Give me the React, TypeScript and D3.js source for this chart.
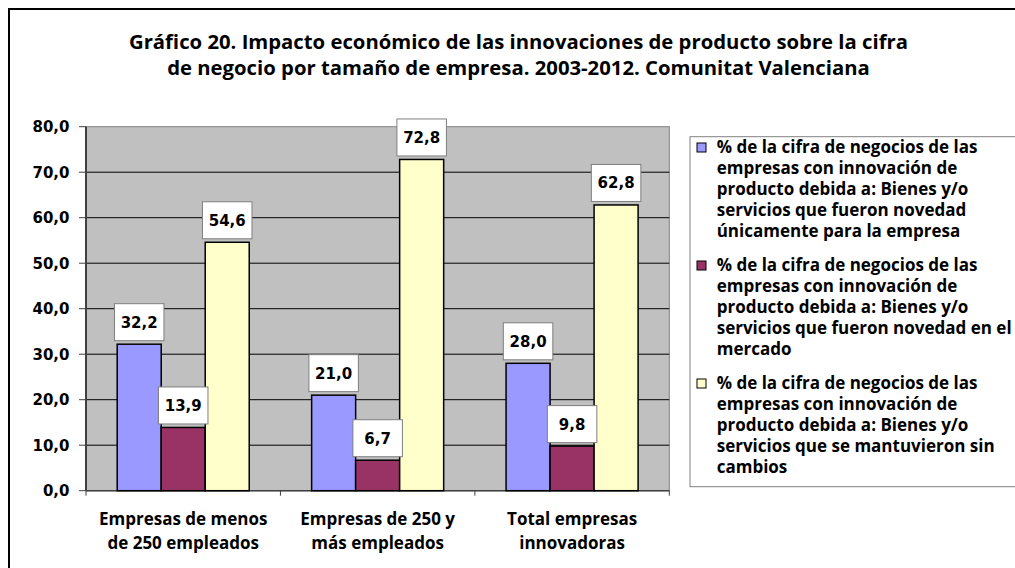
import React from "react";
import * as d3 from "d3";

const categoryLines: string[][] = [
  ["Empresas de menos", "de 250 empleados"],
  ["Empresas de 250 y", "más empleados"],
  ["Total empresas", "innovadoras"],
];
const categories = ["c1", "c2", "c3"];
const seriesKeys = ["s1", "s2", "s3"];
const seriesColors = ["#9999FF", "#993366", "#FFFFCC"];
const valuesS1 = [32.2, 21.0, 28.0];
const valuesS2 = [13.9, 6.7, 9.8];
const valuesS3 = [54.6, 72.8, 62.8];
const yTicks = [0, 10, 20, 30, 40, 50, 60, 70, 80];
const titleLines = [
  "Gráfico 20. Impacto económico de las innovaciones de producto sobre la cifra",
  "de negocio por tamaño de empresa. 2003-2012. Comunitat Valenciana",
];
const legendLines: string[][] = [
  [
    "% de la cifra de negocios de las",
    "empresas con innovación de",
    "producto debida a: Bienes y/o",
    "servicios que fueron novedad",
    "únicamente para la empresa",
  ],
  [
    "% de la cifra de negocios de las",
    "empresas con innovación de",
    "producto debida a: Bienes y/o",
    "servicios que fueron novedad en el",
    "mercado",
  ],
  [
    "% de la cifra de negocios de las",
    "empresas con innovación de",
    "producto debida a: Bienes y/o",
    "servicios que se mantuvieron sin",
    "cambios",
  ],
];

const W = 1007;
const H = 560;
const plot = { left: 78, top: 118.7, right: 661.3, bottom: 482.7 };
const labelFont = "'DejaVu Sans', Verdana, sans-serif";
const textFont = "'Open Sans', Calibri, sans-serif";

export default function App() {
  const seriesValues = [valuesS1, valuesS2, valuesS3];
  const y = d3.scaleLinear().domain([0, 80]).range([plot.bottom, plot.top]);
  const x0 = d3.scaleBand().domain(categories).range([plot.left, plot.right]).padding(0);
  const x1 = d3
    .scaleBand()
    .domain(seriesKeys)
    .range([0, x0.bandwidth()])
    .paddingInner(0)
    .paddingOuter(0.709);

  const titleCx = 510.5;

  return (
    <svg
      width={W}
      height={H}
      style={{ position: "absolute", left: 8, top: 8, display: "block", background: "#fff" }}
    >
      <rect x={1} y={1} width={W + 100} height={H + 100} fill="#fff" stroke="#000" strokeWidth={2} />
      {titleLines.map((t, i) => (
        <text
          key={i}
          x={titleCx}
          y={41.2 + i * 25.6}
          textAnchor="middle"
          fontFamily={textFont}
          fontWeight="bold"
          fontSize={20.3}
          fill="#000"
        >
          {t}
        </text>
      ))}

      {/* plot area */}
      <rect
        x={plot.left}
        y={plot.top}
        width={plot.right - plot.left}
        height={plot.bottom - plot.top}
        fill="#C0C0C0"
        stroke="#808080"
        strokeWidth={1}
      />
      {yTicks.map((t) => (
        <g key={t}>
          {t > 0 && t < 80 && (
            <line x1={plot.left} x2={plot.right} y1={y(t)} y2={y(t)} stroke="#000" strokeWidth={1} />
          )}
          <line x1={plot.left - 7} x2={plot.left} y1={y(t)} y2={y(t)} stroke="#404040" strokeWidth={1} />
          <text
            x={61.5}
            y={y(t)}
            dy="0.36em"
            textAnchor="end"
            fontFamily={labelFont}
            fontWeight="bold"
            fontSize={15}
            fill="#000"
          >
            {d3.format(".1f")(t).replace(".", ",")}
          </text>
        </g>
      ))}
      {/* axes */}
      <line x1={plot.left} x2={plot.left} y1={plot.top} y2={plot.bottom} stroke="#404040" strokeWidth={2} />
      <line x1={plot.left} x2={plot.right} y1={plot.bottom} y2={plot.bottom} stroke="#404040" strokeWidth={1.5} />
      {[...categories.map((c) => x0(c) as number), plot.right].map((xv, i) => (
        <line key={i} x1={xv} x2={xv} y1={plot.bottom} y2={plot.bottom + 5} stroke="#404040" strokeWidth={1} />
      ))}

      {/* bars */}
      {categories.map((c, ci) => (
        <g key={c} transform={`translate(${x0(c)},0)`}>
          {seriesKeys.map((s, si) => {
            const v = seriesValues[si][ci];
            const bx = x1(s) as number;
            const bw = x1.bandwidth();
            return (
              <rect
                key={s}
                x={bx}
                y={y(v)}
                width={bw}
                height={plot.bottom - y(v)}
                fill={seriesColors[si]}
                stroke="#000"
                strokeWidth={1.5}
              />
            );
          })}
        </g>
      ))}
      {/* value labels */}
      {categories.map((c, ci) => (
        <g key={c} transform={`translate(${x0(c)},0)`}>
          {seriesKeys.map((s, si) => {
            const v = seriesValues[si][ci];
            const cx = (x1(s) as number) + x1.bandwidth() / 2;
            const bh = 37;
            const bwid = 49.5;
            const by = y(v) - 3.5 - bh;
            return (
              <g key={s}>
                <rect x={cx - bwid / 2} y={by} width={bwid} height={bh} fill="#fff" stroke="#7f7f7f" strokeWidth={1} />
                <text
                  x={cx}
                  y={by + bh / 2}
                  dy="0.36em"
                  textAnchor="middle"
                  fontFamily={labelFont}
                  fontWeight="bold"
                  fontSize={15}
                  fill="#000"
                >
                  {d3.format(".1f")(v).replace(".", ",")}
                </text>
              </g>
            );
          })}
        </g>
      ))}

      {/* x labels */}
      {categories.map((c, ci) =>
        categoryLines[ci].map((ln, li) => (
          <text
            key={c + li}
            x={(x0(c) as number) + x0.bandwidth() / 2}
            y={517 + li * 24}
            textAnchor="middle"
            fontFamily={textFont}
            fontWeight="bold"
            fontSize={17}
            fill="#000"
          >
            {ln}
          </text>
        ))
      )}

      {/* legend */}
      <rect x={682} y={128.7} width={400} height={350} fill="#fff" stroke="#808080" strokeWidth={1} />
      {legendLines.map((lines, i) => {
        const b0 = 144.5 + i * 118;
        return (
          <g key={i}>
            <rect x={689} y={b0 - 9.5} width={9} height={9} fill={seriesColors[i]} stroke="#000" strokeWidth={1} />
            {lines.map((ln, li) => (
              <text
                key={li}
                x={708.7}
                y={b0 + li * 21}
                fontFamily={textFont}
                fontWeight="bold"
                fontSize={17}
                fill="#000"
              >
                {ln}
              </text>
            ))}
          </g>
        );
      })}
    </svg>
  );
}
